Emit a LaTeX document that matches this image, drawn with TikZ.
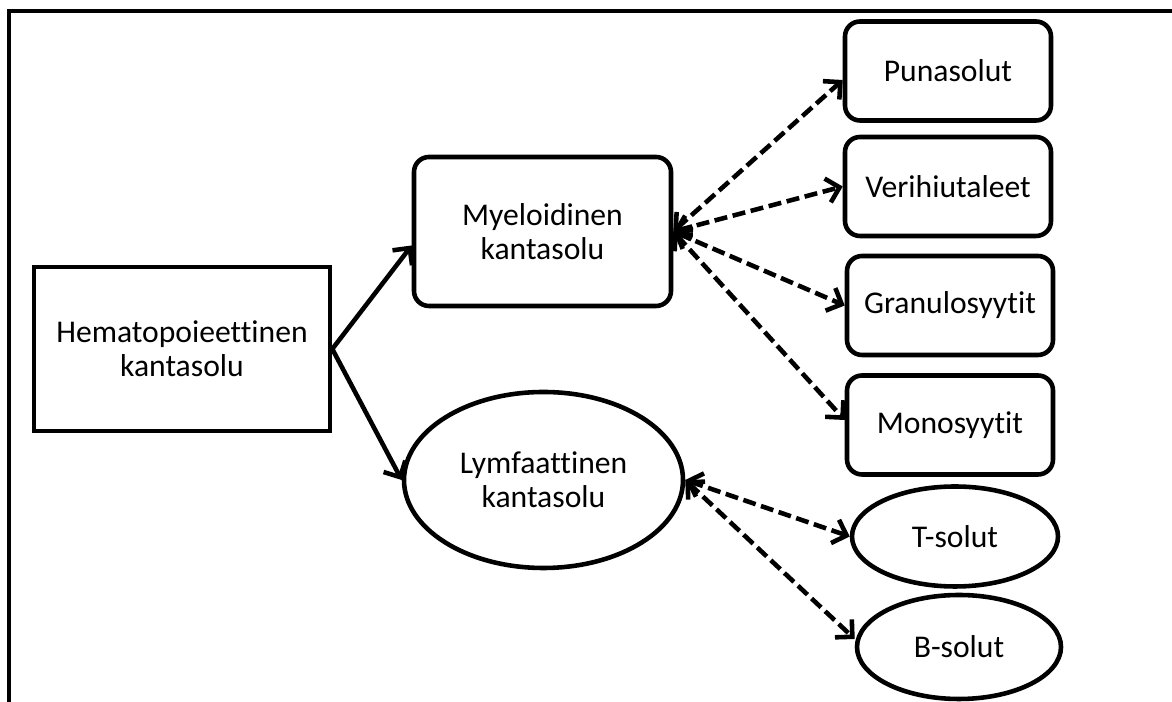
\documentclass[tikz,border=0pt]{standalone}
\usepackage{fontspec}
\setmainfont[Ligatures=NoCommon]{Carlito}
\usetikzlibrary{shapes.geometric, arrows.meta, positioning}

\begin{document}
\begin{tikzpicture}[
    font=\fontsize{9}{9.7}\selectfont,
    stemrect/.style={draw, line width=1.3pt, inner sep=0pt, align=center},
    cellbox/.style={stemrect, rounded corners=0.15cm, minimum width=2.06cm, minimum height=0.99cm},
    cellellipse/.style={stemrect, ellipse, minimum width=2.06cm, minimum height=1.0cm},
    mainarrow/.style={line width=1.3pt, -{Straight Barb[length=3.5pt, width=7pt]}},
    subarrow/.style={line width=1.3pt, dash pattern=on 3.7pt off 1.6pt, {Straight Barb[length=3.5pt, width=7pt]}-{Straight Barb[length=3.5pt, width=7pt]}}
]
    \useasboundingbox (0,0) rectangle (11.72,7.02);
    \draw[line width=1pt] (0.09,0) -- (0.09,6.91) -- (11.72,6.91);

    % stem cells
    \node[stemrect, minimum width=2.96cm, minimum height=1.64cm] (hema) at (1.82,3.53) {Hematopoieettinen\\kantasolu};
    \node[stemrect, rounded corners=0.15cm, minimum width=2.57cm, minimum height=1.49cm] (myel) at (5.425,4.705) {Myeloidinen\\kantasolu};
    \node[stemrect, ellipse, minimum width=2.79cm, minimum height=1.76cm] (lymf) at (5.435,2.22) {Lymfaattinen\\kantasolu};

    % blood cells
    \node[cellbox] (puna) at (9.48,6.31) {Punasolut};
    \node[cellbox] (veri) at (9.48,5.155) {Verihiutaleet};
    \node[cellbox] (gran) at (9.50,3.965) {Granulosyytit};
    \node[cellbox] (mono) at (9.50,2.77) {Monosyytit};
    \node[cellellipse] (tsol) at (9.55,1.655) {T-solut};
    \node[cellellipse, minimum width=2.04cm, minimum height=1.04cm] (bsol) at (9.59,0.55) {B-solut};

    \draw[mainarrow] (hema.east) -- ([yshift=-0.14cm]myel.west);
    \draw[mainarrow] (hema.east) -- (lymf.west);

    \draw[subarrow] (myel.east) -- ([yshift=-0.09cm]puna.west);
    \draw[subarrow] (myel.east) -- (veri.west);
    \draw[subarrow] (myel.east) -- (gran.west);
    \draw[subarrow] (myel.east) -- ([yshift=0.05cm]mono.west);
    \draw[subarrow] (lymf.east) -- (tsol.west);
    \draw[subarrow] (lymf.east) -- ([yshift=0.08cm]bsol.west);
\end{tikzpicture}
\end{document}
